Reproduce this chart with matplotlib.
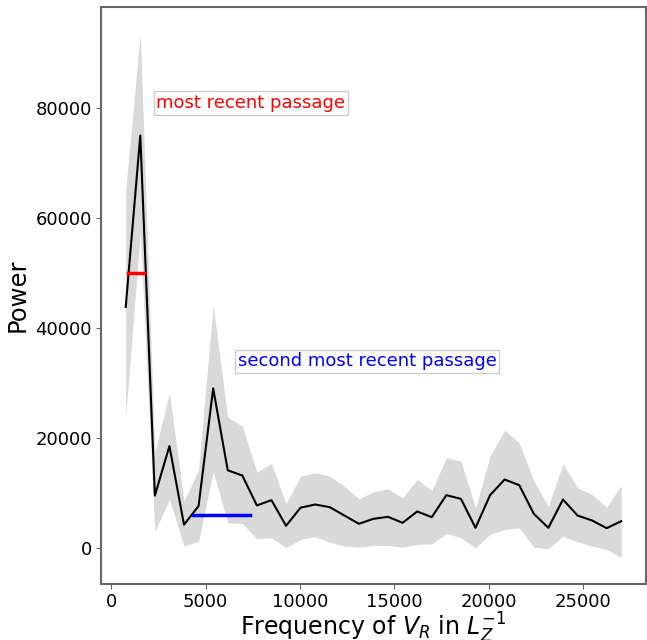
import numpy as np
import matplotlib
matplotlib.use("Agg")
import matplotlib.pyplot as plt

# harmonic index of the base frequency
f0 = 772.0
harmonic = np.arange(1, 36)

power = [43800, 75000, 9500, 18500, 4200, 7600, 29000, 14100, 13150, 7700,
         8660, 4000, 7300, 7870, 7390, 5870, 4360, 5270, 5630, 4540,
         6600, 5570, 9570, 8900, 3630, 9570, 12420, 11390, 6180, 3630,
         8780, 5870, 4960, 3570, 4840]
power_hi = [65100, 93600, 17300, 28200, 8470, 14200, 44200, 23750, 22110, 13750,
            15330, 8050, 13020, 13630, 13020, 11200, 8900, 10200, 10720, 9090,
            12420, 10420, 16360, 15750, 7270, 16660, 21390, 19090, 12110, 7570,
            15270, 10900, 9690, 7390, 11390]
power_lo = [23900, 57300, 3000, 8780, 300, 1200, 13900, 4540, 4420, 1630,
            1810, 0, 1510, 2000, 1020, 290, 110, 420, 420, 110,
            600, 720, 2600, 1810, 0, 2420, 3330, 3630, 110, -180,
            2110, 1090, 290, -300, -1820]

# passage markers: (x start, x end, power)
recent_seg = (900, 1750, 50000)
second_seg = (4350, 7350, 6000)

freq = harmonic * f0

fig = plt.figure(figsize=(6.47, 6.4), dpi=100)
ax = fig.add_axes([0.156, 0.0875, 0.8425, 0.9015])

ax.fill_between(freq, power_lo, power_hi, color='#d9d9d9', linewidth=0)
ax.plot(freq, power, color='black', linewidth=1.5)
ax.plot(recent_seg[:2], [recent_seg[2]] * 2, color='red', linewidth=2.5)
ax.plot(second_seg[:2], [second_seg[2]] * 2, color='blue', linewidth=2.5)

box = dict(facecolor='white', edgecolor='#cccccc', pad=2)
ax.text(2400, 80000, 'most recent passage', color='red', fontsize=13, bbox=box)
ax.text(6700, 33000, 'second most recent passage', color='blue', fontsize=13, bbox=box)

# the reference label sits right at the bottom edge
ax.set_xlabel('Frequency of $V_R$ in $L_Z^{-1}$', fontsize=17)
ax.xaxis.set_label_coords(0.5, -0.047)
ax.set_ylabel('Power', fontsize=17.5)
ax.tick_params(labelsize=13, color='#666666', pad=3)
for sp in ax.spines.values():
    sp.set_color('#666666')
    sp.set_linewidth(1.5)

fig.savefig('out.png', dpi=100)
